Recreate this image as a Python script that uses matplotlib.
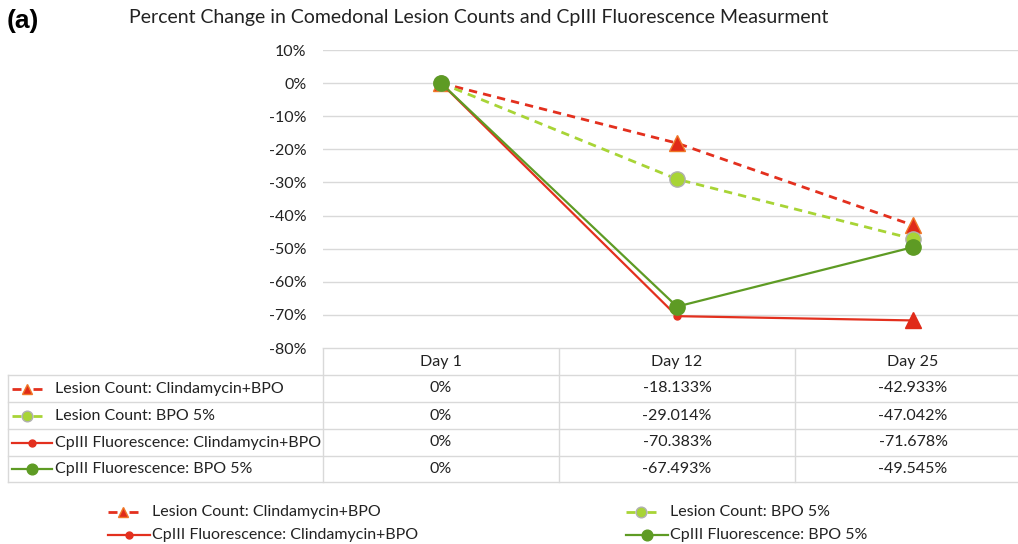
import matplotlib
matplotlib.use("Agg")
import matplotlib.pyplot as plt
from matplotlib.transforms import blended_transform_factory
from matplotlib.ticker import FuncFormatter

plt.rcParams['font.family'] = ['Lato', 'DejaVu Sans']

days = ['Day 1', 'Day 12', 'Day 25']
series_names = ['Lesion Count: Clindamycin+BPO',
                'Lesion Count: BPO 5%',
                'CpIII Fluorescence: Clindamycin+BPO',
                'CpIII Fluorescence: BPO 5%']
lesion_clinda = [0, -18.133, -42.933]
lesion_bpo = [0, -29.014, -47.042]
cp_clinda = [0, -70.383, -71.678]
cp_bpo = [0, -67.493, -49.545]

W, H = 1018, 544
fig = plt.figure(figsize=(W / 100, H / 100), dpi=100)

# plot area in pixel units
ax = fig.add_axes([323 / W, 1 - 348 / H, (1031 - 323) / W, (348 - 50) / H])
x = range(len(days))

styles = [
    dict(color='#E3301E', ls=(0, (3, 2.2)), lw=2.0, marker='^', ms=11,
         mfc='#E02A18', mec='#F07828', mew=1.0),
    dict(color='#A8D436', ls=(0, (3, 2.2)), lw=2.0, marker='o', ms=11,
         mfc='#A8D436', mec='#B0B0B0', mew=1.0),
    dict(color='#E3301E', ls='-', lw=1.6, marker='o', ms=5,
         mfc='#E3301E', mec='#E3301E'),
    dict(color='#5E9B24', ls='-', lw=1.6, marker='o', ms=11,
         mfc='#5E9B24', mec='#5E9B24'),
]
all_series = [lesion_clinda, lesion_bpo, cp_clinda, cp_bpo]

for i, (vals, st) in enumerate(zip(all_series, styles)):
    if i == 2:
        # last point of this series shows a triangle in the original
        ax.plot(x, vals, markevery=[0, 1], zorder=3 + i, **st)
        ax.plot([x[-1]], [vals[-1]], marker='^', ms=11, color='#E02A18',
                mec='#E02A18', ls='none', zorder=3 + i)
    else:
        ax.plot(x, vals, zorder=3 + i, **st)

ax.set_xlim(-0.5, 2.5)
ax.set_ylim(-80, 10)
ax.set_yticks(range(-80, 11, 10))
ax.yaxis.set_major_formatter(FuncFormatter(lambda v, p: f'{v:.0f}%'))
ax.grid(axis='y', color='#D9D9D9', lw=1)
ax.set_axisbelow(True)
ax.tick_params(axis='y', length=0, labelsize=11.5, pad=12, labelcolor='#222222')
ax.set_xticks([])
for s in ax.spines.values():
    s.set_visible(False)

# overlay in pixel coordinates for table, legend and titles
ov = fig.add_axes([0, 0, 1, 1], zorder=-1)
ov.set_xlim(0, W)
ov.set_ylim(H, 0)
ov.axis('off')

ov.text(7, 21, '(a)', fontsize=19, fontweight='bold', family='Liberation Sans',
        va='center', ha='left')
ov.text(479, 18, 'Percent Change in Comedonal Lesion Counts and CpIII Fluorescence Measurment',
        fontsize=14, va='center', ha='center', color='#222222')

grid_c = '#D9D9D9'
row_y = [348, 375, 402, 429, 456, 482]
ov.plot([323, W], [348, 348], color=grid_c, lw=1)
for yy in row_y[1:]:
    ov.plot([8, W], [yy, yy], color=grid_c, lw=1)
ov.plot([8, 8], [375, 482], color=grid_c, lw=1)
for xx in [323, 559, 795]:
    ov.plot([xx, xx], [348, 482], color=grid_c, lw=1)


def legend_key(i, lx, ly, solid_len):
    st = dict(styles[i])
    if i != 2:
        st['ms'] = st['ms'] * 0.7
    if i < 2:
        # short dash, marker, short dash
        line_kw = dict(color=st['color'], lw=st['lw'], solid_capstyle='butt')
        ov.plot([lx, lx + 9], [ly, ly], **line_kw)
        ov.plot([lx + 21, lx + 30], [ly, ly], **line_kw)
        st['ls'] = 'none'
        ov.plot([lx + 15], [ly], **st)
    else:
        ov.plot([lx, lx + solid_len / 2, lx + solid_len], [ly, ly, ly],
                markevery=[1], **st)


tr = blended_transform_factory(ax.transData, ov.transData)
for j, d in enumerate(days):
    ov.text(j, 362, d, transform=tr, ha='center', va='center', fontsize=11.5,
            color='#222222')
for i, vals in enumerate(all_series):
    yc = (row_y[i + 1] + row_y[i + 2]) / 2
    for j, v in enumerate(vals):
        txt = '0%' if v == 0 else f'{v:.3f}%'
        ov.text(j, yc, txt, transform=tr, ha='center', va='center',
                fontsize=11.5, color='#222222')
    legend_key(i, 12, yc, 40)
    ov.text(55, yc, series_names[i], ha='left', va='center', fontsize=11.5,
            color='#222222')

# bottom legend
leg_pos = [(108, 512), (626, 512), (108, 535), (626, 535)]
for i, (lx, ly) in enumerate(leg_pos):
    legend_key(i, lx, ly, 42)
    ov.text(lx + 44, ly, series_names[i], ha='left', va='center',
            fontsize=11.5, color='#222222')

fig.savefig('out.png', dpi=100)
